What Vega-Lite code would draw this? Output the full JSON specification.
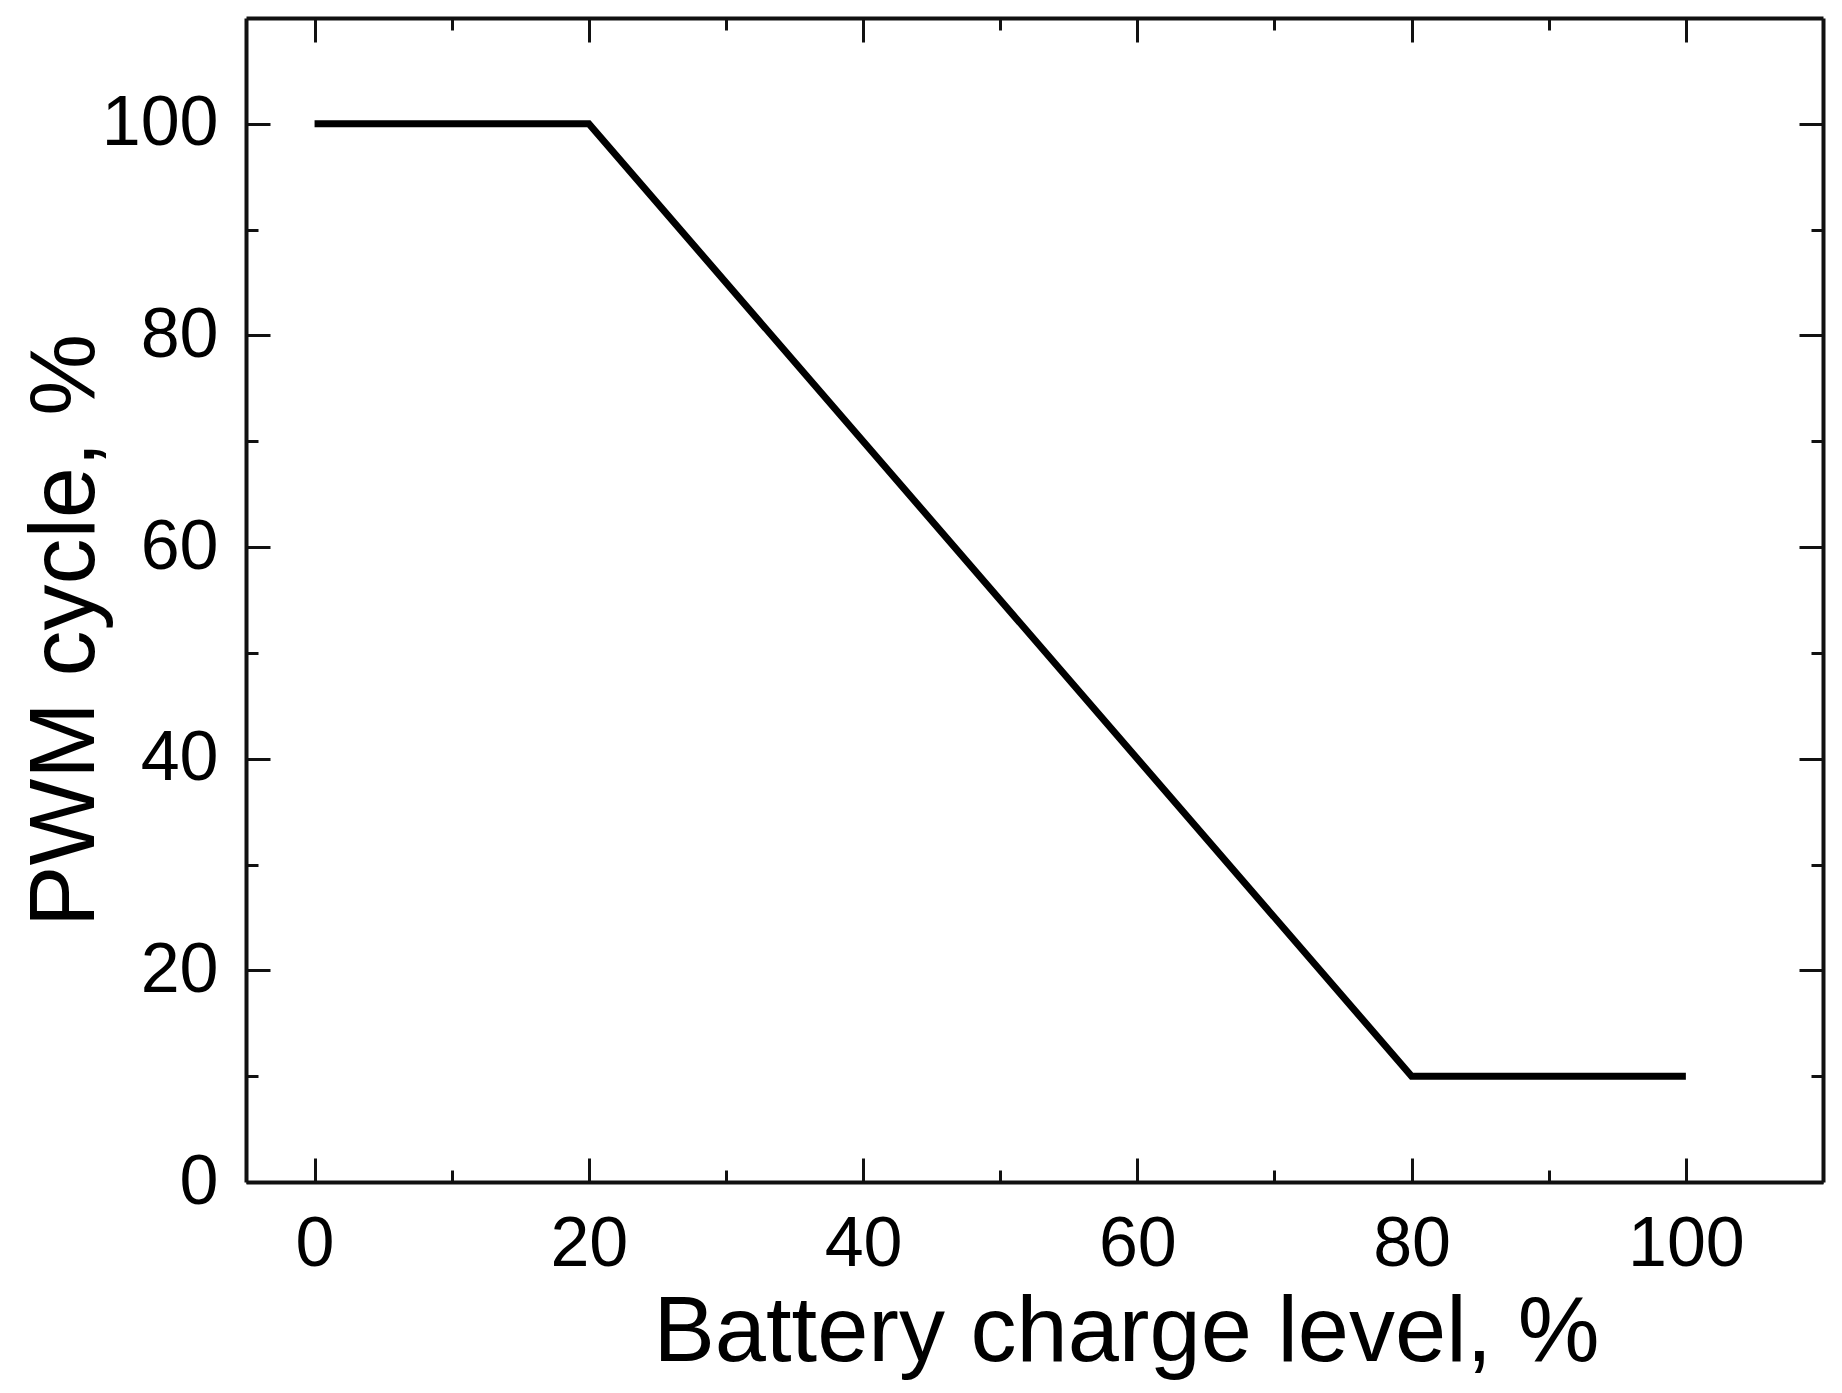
{
  "$schema": "https://vega.github.io/schema/vega-lite/v6.json",
  "width": 1577,
  "height": 1164,
  "autosize": {"type": "none"},
  "padding": {"left": 246, "top": 18, "right": 19, "bottom": 211},
  "background": "white",
  "config": {
    "view": {"stroke": null},
    "axis": {
      "domainColor": "#111",
      "tickColor": "#111",
      "labelColor": "#000",
      "titleColor": "#000",
      "labelFont": "Liberation Sans",
      "titleFont": "Liberation Sans",
      "titleFontWeight": "normal",
      "grid": false,
      "domainWidth": 4,
      "tickWidth": 3,
      "labelFlush": false,
      "labelOverlap": false
    }
  },
  "data": {
    "values": [
      {"charge": 0, "pwm": 100},
      {"charge": 20, "pwm": 100},
      {"charge": 80, "pwm": 10},
      {"charge": 100, "pwm": 10}
    ]
  },
  "layer": [
    {
      "mark": {"type": "line", "color": "black", "strokeWidth": 7},
      "encoding": {
        "x": {
          "field": "charge", "type": "quantitative",
          "scale": {"domain": [-5, 110], "nice": false, "zero": false},
          "axis": {
            "orient": "bottom", "values": [0, 20, 40, 60, 80, 100],
            "tickSize": -24, "labelFontSize": 70, "labelPadding": 107,
            "labelBaseline": "alphabetic",
            "title": "Battery charge level, %", "titleFontSize": 92,
            "titleX": 880, "titleY": 178, "titleBaseline": "alphabetic", "titleAlign": "center"
          }
        },
        "y": {
          "field": "pwm", "type": "quantitative",
          "scale": {"domain": [0, 110], "nice": false, "zero": false},
          "axis": {
            "orient": "left", "values": [0, 20, 40, 60, 80, 100],
            "tickSize": -24, "labelFontSize": 70, "labelPadding": 52,
            "labelBaseline": "middle",
            "title": "PWM cycle, %", "titleFontSize": 92,
            "titleX": -153, "titleY": 612, "titleAngle": 270,
            "titleBaseline": "alphabetic", "titleAlign": "center"
          }
        }
      }
    },
    {
      "mark": {"type": "line", "opacity": 0},
      "encoding": {
        "x": {
          "field": "charge", "type": "quantitative",
          "scale": {"domain": [-5, 110], "nice": false, "zero": false},
          "axis": {"orient": "bottom", "values": [10, 30, 50, 70, 90], "tickSize": -12, "labels": false, "title": null, "domain": false}
        },
        "y": {
          "field": "pwm", "type": "quantitative",
          "scale": {"domain": [0, 110], "nice": false, "zero": false},
          "axis": {"orient": "left", "values": [10, 30, 50, 70, 90], "tickSize": -12, "labels": false, "title": null, "domain": false}
        }
      }
    },
    {
      "mark": {"type": "line", "opacity": 0},
      "encoding": {
        "x": {
          "field": "charge", "type": "quantitative",
          "scale": {"domain": [-5, 110], "nice": false, "zero": false},
          "axis": {"orient": "top", "values": [0, 20, 40, 60, 80, 100], "tickSize": -24, "labels": false, "title": null}
        },
        "y": {
          "field": "pwm", "type": "quantitative",
          "scale": {"domain": [0, 110], "nice": false, "zero": false},
          "axis": {"orient": "right", "values": [0, 20, 40, 60, 80, 100], "tickSize": -24, "labels": false, "title": null}
        }
      }
    },
    {
      "mark": {"type": "line", "opacity": 0},
      "encoding": {
        "x": {
          "field": "charge", "type": "quantitative",
          "scale": {"domain": [-5, 110], "nice": false, "zero": false},
          "axis": {"orient": "top", "values": [10, 30, 50, 70, 90], "tickSize": -12, "labels": false, "title": null, "domain": false}
        },
        "y": {
          "field": "pwm", "type": "quantitative",
          "scale": {"domain": [0, 110], "nice": false, "zero": false},
          "axis": {"orient": "right", "values": [10, 30, 50, 70, 90], "tickSize": -12, "labels": false, "title": null, "domain": false}
        }
      }
    }
  ],
  "resolve": {"axis": {"x": "independent", "y": "independent"}}
}
